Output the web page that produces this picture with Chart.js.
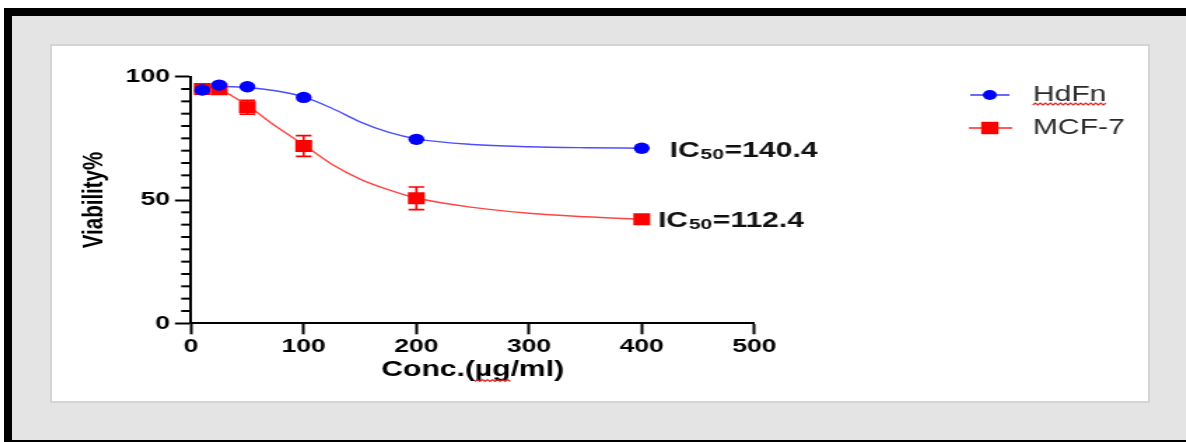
<!DOCTYPE html>
<html><head><meta charset="utf-8">
<script src="https://cdn.jsdelivr.net/npm/chart.js@4/dist/chart.umd.min.js"></script>
<style>
html,body{margin:0;padding:0;background:#fff;width:1186px;height:442px;overflow:hidden;position:relative}
#black{position:absolute;left:4px;top:8px;width:1182px;height:434px;background:#000}
#gray{position:absolute;left:12px;top:16px;width:1174px;height:424px;background:#e4e4e4}
#panel{position:absolute;left:50px;top:44px;width:1100px;height:359px;background:#fff;border:2px solid #d4d4d4;box-sizing:border-box}
#c{position:absolute;left:52px;top:46px}
</style></head><body>
<div id="black"></div><div id="gray"></div><div id="panel"></div>
<canvas id="c" width="783" height="355" style="width:1096px;height:355px"></canvas>
<script>
// ---- data ----
const concentrations = [10, 25, 50, 100, 200, 400];
const hdfnViability = [94.6, 96.6, 95.9, 91.6, 74.6, 71.0];
const mcf7Viability = [95.0, 94.9, 87.6, 71.9, 50.7, 42.2];
const mcf7Error = [1.0, 1.0, 2.8, 4.2, 4.6, 0];
const curveConc = [10, 25, 50, 75, 100, 125, 150, 175, 200, 250, 300, 350, 400];
const hdfnCurve = [96.0, 96.0, 95.6, 94.3, 91.8, 87.2, 81.7, 77.5, 74.8, 72.5, 71.6, 71.2, 71.0];
const mcf7Curve = [95.6, 94.8, 88.3, 80.0, 72.4, 64.5, 58.5, 54.2, 50.8, 47.0, 44.6, 43.2, 42.2];
const seriesNames = ['HdFn', 'MCF-7'];
const ic50Values = ['140.4', '112.4'];
const xTicks = [0, 100, 200, 300, 400, 500];
const yTickLabels = [0, 50, 100];
const xTitle = 'Conc.(µg/ml)';
const yTitle = 'Viability%';

const FONT = "'Liberation Sans', Arial, Helvetica, sans-serif";
const pts = (xs, ys) => xs.map((x, i) => ({x: x, y: ys[i]}));

function squiggle(ctx, x0, x1, y) {
  ctx.save();
  ctx.strokeStyle = '#e02020';
  ctx.lineWidth = 1.2;
  ctx.beginPath();
  let up = true;
  ctx.moveTo(x0, y);
  for (let x = x0 + 1.8; x <= x1; x += 1.8) {
    ctx.lineTo(x, up ? y - 1.8 : y);
    up = !up;
  }
  ctx.stroke();
  ctx.restore();
}

const extras = {
  id: 'extras',
  beforeDatasetsDraw(chart) {
    const ctx = chart.ctx, xs = chart.scales.x, ys = chart.scales.y;
    ctx.save();
    ctx.strokeStyle = '#ff0000';
    ctx.lineWidth = 1.6;
    concentrations.forEach((c, i) => {
      const e = mcf7Error[i];
      if (!e) return;
      const x = xs.getPixelForValue(c);
      const yt = ys.getPixelForValue(mcf7Viability[i] + e);
      const yb = ys.getPixelForValue(mcf7Viability[i] - e);
      ctx.beginPath();
      ctx.moveTo(x, yt); ctx.lineTo(x, yb);
      ctx.moveTo(x - 5.6, yt); ctx.lineTo(x + 5.6, yt);
      ctx.moveTo(x - 5.6, yb); ctx.lineTo(x + 5.6, yb);
      ctx.stroke();
    });
    ctx.restore();
  },
  afterDraw(chart) {
    const ctx = chart.ctx, xs = chart.scales.x, ys = chart.scales.y;
    const left = chart.chartArea.left;
    ctx.save();
    // minor y ticks
    ctx.strokeStyle = '#000';
    ctx.lineWidth = 2;
    ys.ticks.forEach(t => {
      if (yTickLabels.includes(t.value)) return;
      const y = ys.getPixelForValue(t.value);
      ctx.beginPath();
      ctx.moveTo(left - 7, y); ctx.lineTo(left, y);
      ctx.stroke();
    });
    // IC50 labels
    const drawIC = (x, y, val) => {
      ctx.fillStyle = '#111';
      ctx.textBaseline = 'middle';
      ctx.textAlign = 'left';
      ctx.font = 'bold 21.5px ' + FONT;
      ctx.fillText('IC', x, y);
      let w = ctx.measureText('IC').width;
      ctx.font = 'bold 15px ' + FONT;
      ctx.fillText('50', x + w + 0.5, y + 3.5);
      w += ctx.measureText('50').width + 1;
      ctx.font = 'bold 21.5px ' + FONT;
      ctx.fillText('=' + val, x + w, y);
    };
    const xLast = xs.getPixelForValue(concentrations[concentrations.length - 1]);
    drawIC(xLast + 20, ys.getPixelForValue(hdfnViability[5]) + 2.7, ic50Values[0]);
    drawIC(xLast + 11.6, ys.getPixelForValue(mcf7Viability[5]) + 1.7, ic50Values[1]);
    // legend
    const lx0 = 656, lx1 = 684, lmx = 670, ltx = 700.7;
    const ly = [49, 82];
    ctx.lineWidth = 1.8;
    ctx.strokeStyle = '#5a5aff';
    ctx.beginPath(); ctx.moveTo(lx0, ly[0]); ctx.lineTo(lx1, ly[0]); ctx.stroke();
    ctx.fillStyle = '#0000ff';
    ctx.beginPath(); ctx.arc(lmx, ly[0], 5, 0, Math.PI * 2); ctx.fill();
    ctx.strokeStyle = '#ff4a4a';
    ctx.beginPath(); ctx.moveTo(lx0 - 1, ly[1]); ctx.lineTo(lx1 + 2, ly[1]); ctx.stroke();
    ctx.fillStyle = '#ff0000';
    ctx.fillRect(lmx - 6.2, ly[1] - 6.2, 12.4, 12.4);
    ctx.fillStyle = '#2a2a2a';
    ctx.font = '21.5px ' + FONT;
    ctx.textBaseline = 'middle';
    ctx.textAlign = 'left';
    ctx.fillText(seriesNames[0], ltx, ly[0]);
    ctx.fillText(seriesNames[1], ltx, ly[1]);
    const hw = ctx.measureText(seriesNames[0]).width;
    squiggle(ctx, ltx, ltx + hw, ly[0] + 10);
    // squiggle under µg in x title
    ctx.font = 'bold 21.5px ' + FONT;
    const tw = ctx.measureText(xTitle).width;
    const cx = (xs.left + xs.right) / 2;
    const sx = cx - tw / 2 + ctx.measureText('Conc.(').width;
    const gw = ctx.measureText('µg').width;
    squiggle(ctx, sx, sx + gw, 335.5);
    ctx.restore();
  }
};

new Chart(document.getElementById('c'), {
  type: 'scatter',
  data: {
    datasets: [
      {label: seriesNames[0], data: pts(concentrations, hdfnViability), pointStyle: 'circle',
       pointRadius: 5.7, pointBackgroundColor: '#0000ff', pointBorderWidth: 0, backgroundColor: '#0000ff', borderColor: '#0000ff', showLine: false},
      {label: seriesNames[1], data: pts(concentrations, mcf7Viability), pointStyle: 'rect',
       pointRadius: 8.5, pointBackgroundColor: '#ff0000', pointBorderWidth: 0, backgroundColor: '#ff0000', borderColor: '#ff0000', showLine: false},
      {label: seriesNames[0] + ' fit', type: 'line', data: pts(curveConc, hdfnCurve), borderColor: '#4d4dff',
       borderWidth: 1.4, pointRadius: 0, showLine: true, cubicInterpolationMode: 'monotone', fill: false},
      {label: seriesNames[1] + ' fit', type: 'line', data: pts(curveConc, mcf7Curve), borderColor: '#ff4444',
       borderWidth: 1.4, pointRadius: 0, showLine: true, cubicInterpolationMode: 'monotone', fill: false}
    ]
  },
  options: {
    responsive: false,
    animation: false,
    devicePixelRatio: 1,
    layout: {padding: {left: 0, right: 281.2, top: 30.7, bottom: 0}},
    plugins: {legend: {display: false}, tooltip: {enabled: false}},
    scales: {
      x: {
        type: 'linear', position: 'bottom', min: 0, max: 500,
        afterBuildTicks: s => { s.ticks = xTicks.map(v => ({value: v})); },
        afterFit: s => { s.height = 77.7; },
        ticks: {color: '#000', font: {family: FONT, weight: 'bold', size: 19}, padding: 1, autoSkip: false, maxRotation: 0},
        grid: {drawOnChartArea: false, drawTicks: true, tickLength: 11, tickWidth: 2, tickColor: '#000'},
        border: {display: true, color: '#000', width: 2},
        title: {display: true, text: xTitle, color: '#000', font: {family: FONT, weight: 'bold', size: 21.5}, padding: {top: 0, bottom: 18.2}}
      },
      y: {
        type: 'linear', position: 'left', min: 0, max: 100,
        afterFit: s => { s.width = 99.3; },
        ticks: {stepSize: 5, autoSkip: false, color: '#000', padding: 3.5,
          font: {family: FONT, weight: 'bold', size: 19},
          callback: v => yTickLabels.includes(v) ? String(v) : ''},
        grid: {drawOnChartArea: false, drawTicks: true, tickLength: 11.5, tickWidth: 2,
          tickColor: c => (c.tick && yTickLabels.includes(c.tick.value)) ? '#000' : 'rgba(0,0,0,0)'},
        border: {display: true, color: '#000', width: 2},
        title: {display: true, text: yTitle, color: '#000', font: {family: FONT, weight: 'bold', size: 20.5}, padding: {top: 18.5, bottom: 0}}
      }
    }
  },
  plugins: [extras]
});
</script>
</body></html>
